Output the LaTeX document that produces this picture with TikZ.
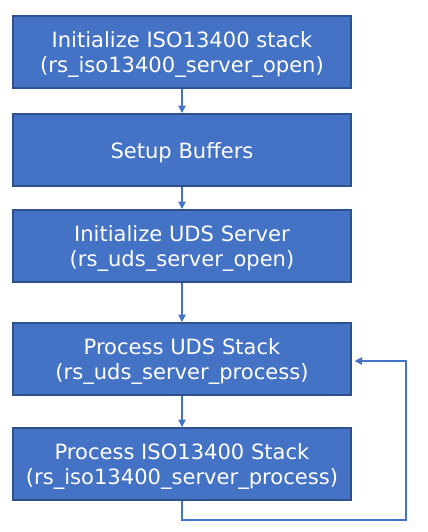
\documentclass[tikz,border=0pt]{standalone}
\usepackage{fontspec}
\setmainfont{DejaVu Sans}
\usetikzlibrary{arrows.meta}
\definecolor{boxfill}{HTML}{4472C4}
\definecolor{boxline}{HTML}{2F528F}
\tikzset{
	stepbox/.style={draw=boxline, line width=1.5pt, fill=boxfill, text=white,
		minimum width=253.5pt, minimum height=54pt, inner sep=0pt, align=center,
		text depth=0pt, font=\fontsize{15.8}{18.8}\selectfont},
	flow/.style={draw=boxfill, line width=0.8pt, -{Triangle[length=5.5pt,width=5.5pt]}}
}
\begin{document}
\begin{tikzpicture}[x=0.75pt, y=-0.75pt]
	\useasboundingbox (0,0) rectangle (428,532);
	\node[stepbox] (iso) at (182,52) {Initialize ISO13400 stack\\(rs\_iso13400\_server\_open)};
	\node[stepbox] (buf) at (182,150) {Setup Buffers};
	\node[stepbox] (uds) at (182,246) {Initialize UDS Server\\(rs\_uds\_server\_open)};
	\node[stepbox] (puds) at (182,359) {Process UDS Stack\\(rs\_uds\_server\_process)};
	\node[stepbox] (piso) at (182,464) {Process ISO13400 Stack\\(rs\_iso13400\_server\_process)};
	\draw [flow] (iso) -- (buf);
	\draw [flow] (buf) -- (uds);
	\draw [flow] (uds) -- (puds);
	\draw [flow] (puds) -- (piso);
	\draw [flow, shorten >=2pt] (piso.south) -- ++(0,19) -| (406,361) -- (puds.east |- 0,361);
\end{tikzpicture}
\end{document}
